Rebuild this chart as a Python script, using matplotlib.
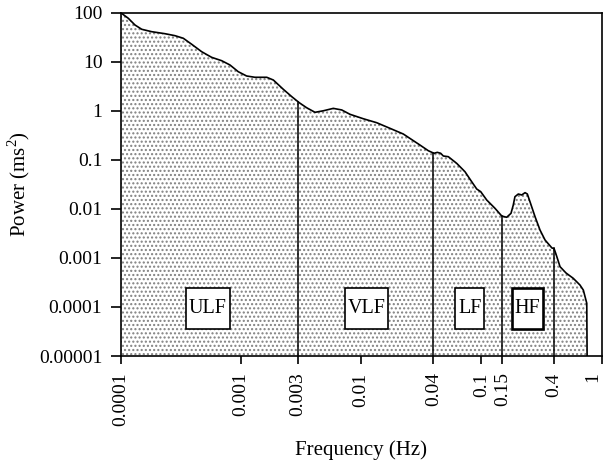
import numpy as np
import matplotlib
matplotlib.use("Agg")
import matplotlib.pyplot as plt
from matplotlib.path import Path
from matplotlib.ticker import FixedLocator, FixedFormatter, NullLocator

plt.rcParams['font.family'] = ['Liberation Serif', 'DejaVu Serif']
plt.rcParams['mathtext.fontset'] = 'custom'
plt.rcParams['mathtext.rm'] = 'Liberation Serif'
plt.rcParams['hatch.color'] = '#808080'
plt.rcParams['hatch.linewidth'] = 1.0

# Spectrum (frequency in Hz, power in ms^2)
freq = [0.0001, 0.0001157, 0.0001315, 0.0001496, 0.0001811, 0.0002338, 0.000283,
        0.0003318, 0.0003897, 0.000472, 0.000571, 0.000692, 0.000811, 0.000950,
        0.001116, 0.001309, 0.001641, 0.001862, 0.002254, 0.00265, 0.00306,
        0.00352, 0.004135, 0.00485, 0.00587, 0.00690, 0.00808, 0.01042, 0.01349,
        0.01738, 0.02244, 0.02805, 0.03090, 0.03622, 0.04036, 0.04305, 0.04592,
        0.04831, 0.05315, 0.06237, 0.0731, 0.0832, 0.0916, 0.0989, 0.1109, 0.130,
        0.148, 0.1626, 0.1766, 0.1845, 0.1905, 0.2032, 0.2168, 0.2312, 0.2415,
        0.2541, 0.280, 0.3078, 0.339, 0.3873, 0.4027, 0.418, 0.452, 0.507, 0.582,
        0.662, 0.706, 0.754, 0.759]
power = [100, 76.9, 56.1, 45.9, 41.0, 37.3, 34.0,
         30.1, 22.7, 16.0, 12.3, 10.5, 8.59, 6.27,
         5.12, 4.82, 4.82, 4.24, 2.74, 1.94, 1.46,
         1.156, 0.931, 1.00, 1.12, 1.04, 0.848, 0.689, 0.571,
         0.439, 0.336, 0.234, 0.200, 0.1535, 0.136, 0.142, 0.136,
         0.1197, 0.1159, 0.0849, 0.0573, 0.0358, 0.0254, 0.0224, 0.01517, 0.01026,
         0.00715, 0.00673, 0.00811, 0.0120, 0.0177, 0.0201, 0.0192, 0.0214, 0.0201,
         0.0140, 0.00692, 0.00371, 0.00232, 0.00159, 0.00156, 0.0012, 0.000662, 0.000492, 0.000384,
         0.000280, 0.000221, 0.000119, 0.00001]

band_edges = [0.003, 0.04, 0.15, 0.4]
band_labels = ['ULF', 'VLF', 'LF', 'HF']
band_label_x = [0.000532, 0.01113, 0.0801, 0.2423]
band_label_y = 0.000093

xticks = [0.0001, 0.001, 0.003, 0.01, 0.04, 0.1, 0.15, 0.4, 1]
xticklabels = ['0.0001', '0.001', '0.003', '0.01', '0.04', '0.1', '0.15', '0.4', '1']
yticks = [100, 10, 1, 0.1, 0.01, 0.001, 0.0001, 0.00001]
yticklabels = ['100', '10', '1', '0.1', '0.01', '0.001', '0.0001', '0.00001']

ymin = 0.00001

fig = plt.figure(figsize=(6.03, 4.61), dpi=100)
ax = fig.add_axes([120.7/603, 1-356/461, (601.5-120.7)/603, (356-12.7)/461])
ax.set_xscale('log')
ax.set_yscale('log')
ax.set_xlim(0.0001, 1)
ax.set_ylim(ymin, 100)

ax.fill_between(freq, power, ymin, facecolor='white', hatch='....',
                edgecolor='#808080', linewidth=0)
ax.plot(freq, power, color='black', lw=1.2, solid_joinstyle='round')

lf = np.log10(freq)
lp = np.log10(power)
for e in band_edges:
    top = 10 ** np.interp(np.log10(e), lf, lp)
    ax.plot([e, e], [ymin, top], color='black', lw=1.1)


def tallbox(x0, y0, width, height, mutation_size):
    padx = 0.13 * mutation_size
    target = 2.04 * mutation_size
    pady = (target - height) / 2
    x1, y1 = x0 - padx, y0 - pady
    x2, y2 = x0 + width + padx, y0 + height + pady
    return Path([(x1, y1), (x2, y1), (x2, y2), (x1, y2), (x1, y1)],
                closed=True)


for lab, x in zip(band_labels, band_label_x):
    lw = 1.9 if lab == 'HF' else 1.2
    ax.text(x, band_label_y, lab, ha='center', va='center', fontsize=14.5,
            bbox=dict(boxstyle=tallbox, facecolor='white',
                      edgecolor='black', lw=lw), zorder=5)

ax.xaxis.set_major_locator(FixedLocator(xticks))
ax.xaxis.set_major_formatter(FixedFormatter(xticklabels))
ax.xaxis.set_minor_locator(NullLocator())
ax.yaxis.set_major_locator(FixedLocator(yticks))
ax.yaxis.set_major_formatter(FixedFormatter(yticklabels))
ax.yaxis.set_minor_locator(NullLocator())
ax.tick_params(axis='both', direction='out', width=1.2, labelsize=14, pad=6)
ax.tick_params(axis='y', length=7.2)
ax.tick_params(axis='x', length=5.8, labelrotation=90)
for s in ax.spines.values():
    s.set_linewidth(1.2)
fig.canvas.draw()
xl = ax.get_xticklabels()
xl[-1].set_horizontalalignment('right')

ax.set_xlabel('Frequency (Hz)', fontsize=15, labelpad=10)
ax.set_ylabel('Power (ms$^2$)', fontsize=15, labelpad=5)

fig.savefig('out.png', dpi=100)
